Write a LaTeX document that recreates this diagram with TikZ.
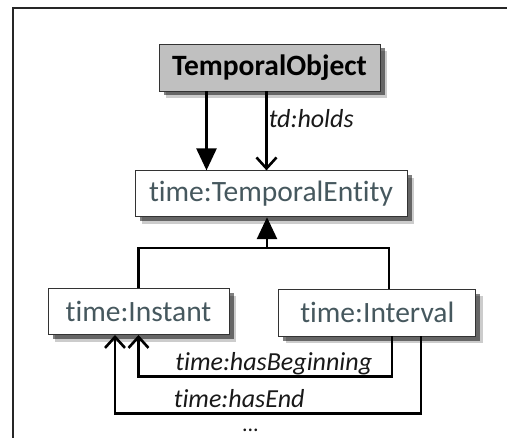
\documentclass[tikz,border=0pt]{standalone}
\usepackage{fontspec}
\setmainfont{Carlito}[Ligatures=NoCommon]
\usetikzlibrary{positioning,calc,arrows.meta,shadows}
\definecolor{owlgray}{RGB}{192,192,192}
\definecolor{owltext}{RGB}{70,88,94}

\begin{document}
\begin{tikzpicture}[
    line width=2.6pt,
    cls/.style={draw=black!80, line width=0.8pt, fill=white, text=owltext, minimum height=46pt, inner xsep=6pt,
      font=\fontsize{29.5}{34}\selectfont,
      drop shadow={shadow xshift=7pt, shadow yshift=-7pt, fill=black, opacity=0.2},
      drop shadow={shadow xshift=4.5pt, shadow yshift=-4.5pt, fill=black, opacity=0.5}},
    lbl/.style={font=\fontsize{26}{30}\selectfont\itshape, inner sep=1pt, text=black!90},
    isa/.style={-{Triangle[width=20pt,length=22pt]}},
    prop/.style={-{Straight Barb[width=20pt,length=11pt]}}
  ]
    \useasboundingbox (0,0) rectangle (507pt,-438pt);

    % frame
    \coordinate (frame tr) at (507pt,-8pt);
    \coordinate (frame bl) at (13pt,-438pt);
    \draw[line width=1.4pt, black!85] (frame tr) -- (frame tr -| frame bl) -- (frame bl);

    \node[cls, fill=owlgray, text=black, font=\fontsize{29.5}{34}\selectfont\bfseries, minimum width=221pt, minimum height=47pt] (tobj) at (269.5pt,-67.5pt) {TemporalObject};
    \node[cls, minimum width=272pt] (ent)  [below=79pt of tobj, xshift=1.5pt]  {time:TemporalEntity};
    \node[cls, minimum width=181pt] (inst) [below=71pt of ent, xshift=-132.5pt] {time:Instant};
    \node[cls, minimum width=197pt, minimum height=47pt] (intv) [right=49pt of inst, yshift=-1pt] {time:Interval};

    % TemporalObject -> TemporalEntity
    \draw[isa]  ([xshift=-63pt]tobj.south) -- ([xshift=-63pt]tobj.south |- ent.north);
    \draw[prop] ([xshift=-3pt]tobj.south)  -- node[lbl, right, pos=0.35]{td:holds} ([xshift=-3pt]tobj.south |- ent.north);

    % subclasses of TemporalEntity
    \coordinate (join) at ([xshift=-4pt, yshift=-31pt]ent.south);
    \draw (inst.north) |- (join) -| ([xshift=11.5pt]intv.north);
    \draw[isa] (join) -- (join |- ent.south);

    % Interval -> Instant
    \draw[prop] ([xshift=14.5pt]intv.south) -- ++(0,-40pt) -| node[lbl, anchor=base, yshift=6pt, pos=0.233]{time:hasBeginning} (inst.south);
    \draw[prop] ([xshift=43.5pt]intv.south) -- ++(0,-77pt) -| node[lbl, anchor=base, yshift=6pt, pos=0.297]{time:hasEnd} ([xshift=-23.5pt]inst.south);

    \node[lbl, font=\fontsize{22}{26}\selectfont] (more) at ([xshift=-7.5pt, yshift=-95pt]$(inst.south)!0.5!(intv.south)$) {...};
  \end{tikzpicture}
\end{document}
